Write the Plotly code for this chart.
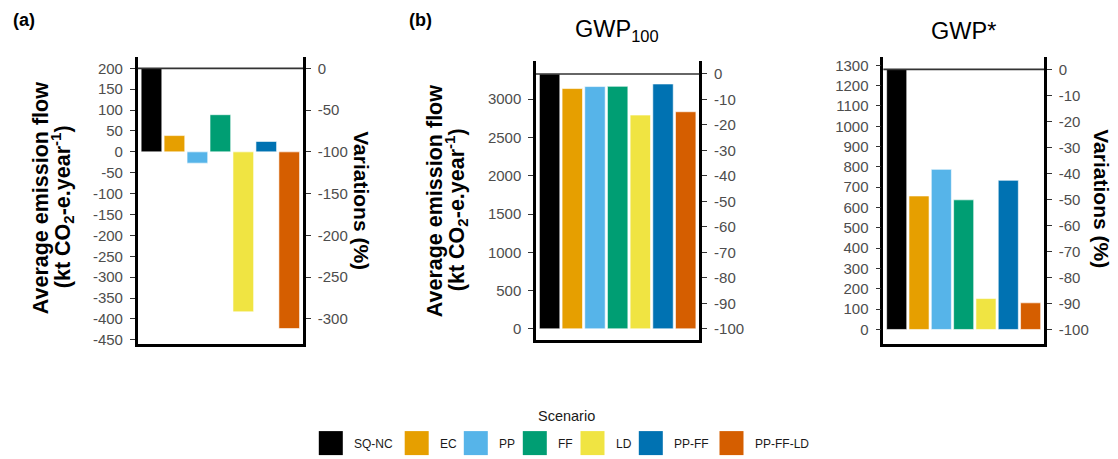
import plotly.graph_objects as go

# ---------------- data ----------------
scenarios = ["SQ-NC", "EC", "PP", "FF", "LD", "PP-FF", "PP-FF-LD"]
colors = ["#000000", "#E69F00", "#56B4E9", "#009E73", "#F0E442", "#0072B2", "#D55E00"]

# (a) average emission flow (kt CO2-e / year)
flow_a = [200, 39, -27, 89, -383, 25, -423]
# (b) GWP100
flow_gwp100 = [3330, 3139, 3165, 3168, 2793, 3199, 2836]
# (b) GWP*
flow_gwpstar = [1280, 657, 788, 638, 152, 734, 131]

ticks_left_a = list(range(200, -451, -50))
ticks_right_a = list(range(0, -301, -50))
ticks_left_gwp100 = list(range(0, 3001, 500))
ticks_left_gwpstar = list(range(0, 1301, 100))
ticks_right_pct = list(range(0, -101, -10))

# ---------------- layout helpers ----------------
W, H = 1118, 459
FONT = "Liberation Sans, Arial, sans-serif"


def xd(px):
    return px / W


def yd(py):
    return 1 - py / H


def ref(letter, i):
    return letter if i == 1 else f"{letter}{i}"


def key(letter, i):
    return f"{letter}axis" if i == 1 else f"{letter}axis{i}"


panels = [
    dict(vals=flow_a, x0=137.7, x1=303.0, ytop=58.0, ybot=347.0, yrange=[-460, 226],
         lticks=ticks_left_a, rticks=ticks_right_a),
    dict(vals=flow_gwp100, x0=536.0, x1=699.3, ytop=61.7, ybot=343.3, yrange=[-150, 3497],
         lticks=ticks_left_gwp100, rticks=ticks_right_pct),
    dict(vals=flow_gwpstar, x0=883.3, x1=1044.0, ytop=57.3, ybot=346.7, yrange=[-70, 1342],
         lticks=ticks_left_gwpstar, rticks=ticks_right_pct),
]

fig = go.Figure()
layout = dict(
    width=W, height=H,
    margin=dict(l=0, r=0, t=0, b=0),
    paper_bgcolor="white", plot_bgcolor="rgba(0,0,0,0)",
    showlegend=False,
    font=dict(family=FONT, color="#1A1A1A"),
    shapes=[], annotations=[],
)

tickfont = dict(family=FONT, size=15, color="#4D4D4D")

for i, p in enumerate(panels, start=1):
    xa, ya, yr = ref("x", i), ref("y", i), ref("y", i + 3)
    base = p["vals"][0]
    pct = [(v - base) / base * 100 for v in p["vals"]]
    fig.add_trace(go.Bar(
        x=scenarios, y=p["vals"], marker=dict(color=colors, line=dict(width=0.6, color="white")),
        width=0.9, xaxis=xa, yaxis=ya, showlegend=False,
    ))
    # same values expressed as variation vs SQ-NC, on the right axis (invisible)
    fig.add_trace(go.Scatter(
        x=scenarios, y=pct, mode="markers", marker=dict(opacity=0, size=1),
        xaxis=xa, yaxis=yr, showlegend=False, hoverinfo="skip",
    ))
    layout[key("x", i)] = dict(
        domain=[xd(p["x0"]), xd(p["x1"])], anchor=ya, range=[-0.6, 6.6],
        type="category", showline=True, linewidth=2.5, linecolor="black",
        showticklabels=False, ticks="", showgrid=False, zeroline=False, fixedrange=True,
    )
    layout[key("y", i)] = dict(
        domain=[yd(p["ybot"]), yd(p["ytop"])], anchor=xa, range=p["yrange"],
        showline=True, linewidth=2.5, linecolor="black",
        ticks="outside", ticklen=5, tickwidth=1.4, tickcolor="#333333",
        tickvals=p["lticks"], ticktext=[str(v) for v in p["lticks"]], ticklabelstandoff=4,
        tickfont=tickfont, showgrid=False, zeroline=False, fixedrange=True,
    )
    rrange = [(v - base) / base * 100 for v in p["yrange"]]
    layout[key("y", i + 3)] = dict(
        overlaying=ya, anchor=xa, side="right", range=rrange,
        showline=True, linewidth=2.5, linecolor="black",
        ticks="outside", ticklen=5, tickwidth=1.4, tickcolor="#333333",
        tickvals=p["rticks"], ticktext=[str(v) for v in p["rticks"]], ticklabelstandoff=4,
        tickfont=tickfont, showgrid=False, zeroline=False, fixedrange=True,
    )
    # reference line at the SQ-NC level (0 %)
    layout["shapes"].append(dict(
        type="line", xref=f"{xa} domain", yref=ya, x0=0, x1=1, y0=base, y1=base,
        line=dict(color="#333333", width=1.6), layer="above",
    ))

# ---------------- texts ----------------
def ann(text, x, y, size, angle=0, bold=False, color="#000000", xanchor="center"):
    layout["annotations"].append(dict(
        text=f"<b>{text}</b>" if bold else text, x=xd(x), y=yd(y), xref="paper", yref="paper",
        showarrow=False, textangle=angle, xanchor=xanchor, yanchor="middle",
        font=dict(family=FONT, size=size, color=color),
    ))


ann("(a)", 24, 20, 18, bold=True)
ann("(b)", 420, 20, 18, bold=True)
ann("GWP<sub>100</sub>", 617, 31, 23.5)
ann("GWP*", 963, 31, 23.5)

# y titles
ann("Average emission flow", 41, 200, 21.5, angle=-90, bold=True)
ann("(kt CO<sub>2</sub>-e.year<sup>-1</sup>)", 62, 209, 21.5, angle=-90, bold=True)
ann("Average emission flow", 435, 203, 21.5, angle=-90, bold=True)
ann("(kt CO<sub>2</sub>-e.year<sup>-1</sup>)", 456, 212, 21.5, angle=-90, bold=True)
ann("Variations (%)", 362, 202, 21, angle=90, bold=True)
ann("Variations (%)", 1102, 200, 21, angle=90, bold=True)

# ---------------- legend ----------------
key_centers = [330.8, 416.7, 475.8, 534.8, 592.5, 650.8, 731.5]
key_y = 447
fig.add_trace(go.Scatter(
    x=key_centers, y=[H - key_y] * len(scenarios), mode="markers",
    marker=dict(symbol="square", size=24, color=colors, line=dict(width=0)),
    xaxis="x7", yaxis="y7", cliponaxis=False, hoverinfo="skip", showlegend=False,
))
layout["xaxis7"] = dict(domain=[0, 1], range=[0, W], visible=False, fixedrange=True, anchor="y7")
layout["yaxis7"] = dict(domain=[0, 0.2], range=[0, 0.2 * H], visible=False, fixedrange=True, anchor="x7")

for name, cx in zip(scenarios, key_centers):
    ann(name, cx + 21.5, key_y + 1, 12, color="#1A1A1A", xanchor="left")
ann("Scenario", 566.5, 420, 14.5, color="#1A1A1A")

fig.update_layout(**layout)
fig.write_html("out.html", config={"displayModeBar": False},
               post_script="document.body.style.margin='0';")
